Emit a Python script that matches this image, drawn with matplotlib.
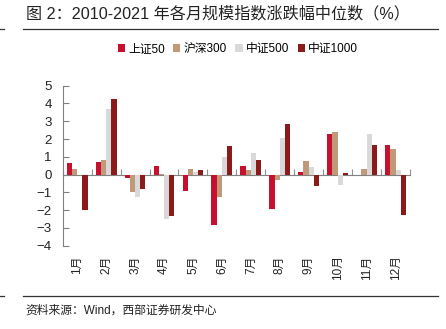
import numpy as np
import matplotlib
matplotlib.use("Agg")
from matplotlib import pyplot as plt
from matplotlib.patches import Patch
from matplotlib.lines import Line2D

plt.rcParams['font.family'] = ['Liberation Sans', 'Noto Sans CJK SC', 'DejaVu Sans']

months = ["1月", "2月", "3月", "4月", "5月", "6月", "7月", "8月", "9月", "10月", "11月", "12月"]
series_names = ["上证50", "沪深300", "中证500", "中证1000"]
sz50 = [0.65, 0.73, -0.17, 0.47, -0.92, -2.85, 0.47, -1.94, 0.17, 2.28, -0.02, 1.69]
hs300 = [0.34, 0.80, -1.00, 0.05, 0.32, -1.26, 0.24, -0.30, 0.77, 2.39, 0.30, 1.45]
zz500 = [-0.05, 3.68, -1.26, -2.52, 0.17, 0.99, 1.20, 2.05, 0.41, -0.59, 2.28, 0.28]
zz1000 = [-2.00, 4.27, -0.83, -2.31, 0.24, 1.63, 0.81, 2.86, -0.64, 0.07, 1.66, -2.28]
colors = ["#C8102E", "#C09A78", "#D9D9D9", "#8B1A1A"]

title = "图 2：2010-2021 年各月规模指数涨跌幅中位数（%）"
source = "资料来源：Wind，西部证券研发中心"

W, H = 446, 329
fig = plt.figure(figsize=(W / 100, H / 100), dpi=100)
ax = fig.add_axes([62.7 / W, 1 - 245.7 / H, (410 - 62.7) / W, 160 / H])

x = np.arange(len(months))
width = 0.18
data = [sz50, hs300, zz500, zz1000]
for i, (vals, c) in enumerate(zip(data, colors)):
    ax.bar(x + (i - 1.5) * width, vals, width, color=c, linewidth=0)

ax.set_xlim(-0.5, len(months) - 0.5)
ax.set_ylim(-4, 5)
ax.set_yticks(range(-4, 6))
ax.tick_params(axis='y', direction='in', length=4, width=0.8, color='#808080',
               pad=8, labelsize=9.5, labelcolor='#222222')
ax.set_xticks(x)
ax.set_xticklabels(months, rotation=90, fontsize=8.5, color='#222222')
ax.tick_params(axis='x', length=0, pad=7)
for s in ['top', 'right', 'bottom']:
    ax.spines[s].set_visible(False)
ax.spines['left'].set_color('#808080')
ax.spines['left'].set_linewidth(0.8)

# zero line with ticks between the months
zero_pos = (0 - ax.get_ylim()[0]) / (ax.get_ylim()[1] - ax.get_ylim()[0])
sec = ax.secondary_xaxis(zero_pos)
sec.set_xticks(np.arange(len(months) + 1) - 0.5)
sec.set_xticklabels([])
sec.tick_params(direction='in', length=4, width=0.8, color='#909090')
sec.spines['bottom'].set_color('#808080')
sec.spines['bottom'].set_linewidth(0.8)

handles = [Patch(facecolor=c, edgecolor='none') for c in colors]
fig.legend(handles, series_names, loc='center', bbox_to_anchor=(238 / W, 1 - 49 / H),
           ncol=4, frameon=False, fontsize=8.5, handlelength=0.6, handleheight=0.6,
           handletextpad=0.3, columnspacing=0.7, borderaxespad=0)

fig.text(26.5 / W, 1 - 14 / H, title, fontsize=11.6, va='center', ha='left', color='#222222')
fig.text(25 / W, 1 - 311 / H, source, fontsize=8.5, va='center', ha='left', color='#222222')
for yy in [29.3, 295.7]:
    fig.add_artist(Line2D([23 / W, 438 / W], [1 - yy / H] * 2, color='#333333', lw=0.9))
    fig.add_artist(Line2D([0, 4 / W], [1 - yy / H] * 2, color='#333333', lw=0.9))

fig.savefig("out.png", dpi=100)
